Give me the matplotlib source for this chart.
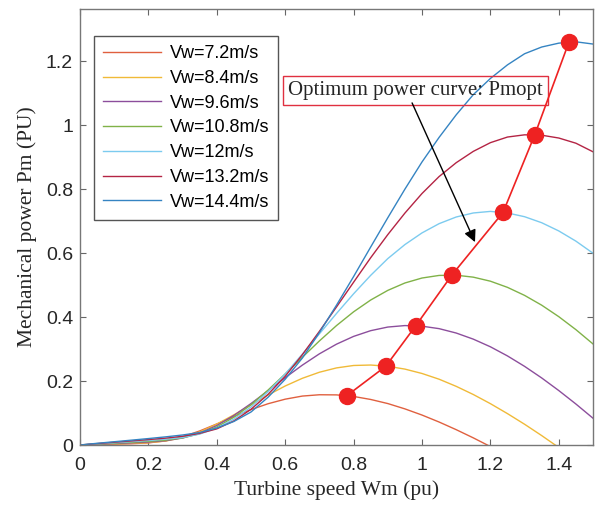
import matplotlib
matplotlib.use('Agg')
import matplotlib.pyplot as plt

# turbine speed grid (pu)
speed = [0.00, 0.05, 0.10, 0.15, 0.20, 0.25, 0.30, 0.35, 0.40, 0.45,
         0.50, 0.55, 0.60, 0.65, 0.70, 0.75, 0.80, 0.85, 0.90, 0.95,
         1.00, 1.05, 1.10, 1.15, 1.20, 1.25, 1.30, 1.35, 1.40, 1.45, 1.50]

# mechanical power (pu) for each wind speed
p72 = [0, 0.0013, 0.0025, 0.0039, 0.0066, 0.0129, 0.0257, 0.0439, 0.0658, 0.0888,
       0.1106, 0.1290, 0.1432, 0.1529, 0.1570, 0.1566, 0.1517, 0.1423, 0.1295, 0.1129,
       0.0936, 0.0718, 0.0479, 0.0223, -0.0049]
p84 = [0, 0.0018, 0.0034, 0.0052, 0.0075, 0.0123, 0.0229, 0.0408, 0.0652, 0.0943,
       0.1254, 0.1563, 0.1844, 0.2084, 0.2274, 0.2409, 0.2485, 0.2499, 0.2460, 0.2372,
       0.2235, 0.2056, 0.1833, 0.1578, 0.1292, 0.0980, 0.0648, 0.0294, -0.0078]
p96 = [0, 0.0023, 0.0045, 0.0067, 0.0093, 0.0134, 0.0218, 0.0372, 0.0609, 0.0923,
       0.1295, 0.1697, 0.2104, 0.2495, 0.2849, 0.3151, 0.3394, 0.3573, 0.3686, 0.3732,
       0.3713, 0.3636, 0.3499, 0.3308, 0.3069, 0.2783, 0.2457, 0.2095, 0.1701, 0.1281,
       0.0837]
p108 = [0, 0.0030, 0.0057, 0.0085, 0.0114, 0.0153, 0.0223, 0.0352, 0.0563, 0.0867,
        0.1258, 0.1718, 0.2221, 0.2740, 0.3252, 0.3732, 0.4162, 0.4531, 0.4832, 0.5063,
        0.5218, 0.5299, 0.5306, 0.5245, 0.5119, 0.4926, 0.4675, 0.4369, 0.4010, 0.3605,
        0.3158]
p120 = [0, 0.0037, 0.0071, 0.0105, 0.0140, 0.0181, 0.0234, 0.0342, 0.0528, 0.0809,
        0.1189, 0.1664, 0.2219, 0.2838, 0.3474, 0.4110, 0.4725, 0.5302, 0.5825, 0.6263,
        0.6628, 0.6917, 0.7125, 0.7251, 0.7300, 0.7251, 0.7134, 0.6946, 0.6689, 0.6371,
        0.5993]
p132 = [0, 0.0044, 0.0086, 0.0127, 0.0169, 0.0214, 0.0273, 0.0364, 0.0504, 0.0752,
        0.1116, 0.1583, 0.2147, 0.2819, 0.3552, 0.4314, 0.5087, 0.5853, 0.6575, 0.7247,
        0.7859, 0.8389, 0.8822, 0.9176, 0.9448, 0.9624, 0.9693, 0.9681, 0.9593, 0.9431,
        0.9163]
p144 = [0, 0.0053, 0.0102, 0.0151, 0.0201, 0.0254, 0.0313, 0.0390, 0.0529, 0.0735,
        0.1031, 0.1493, 0.2055, 0.2716, 0.3514, 0.4369, 0.5264, 0.6188, 0.7102, 0.7995,
        0.8845, 0.9613, 1.0318, 1.0949, 1.1454, 1.1880, 1.2227, 1.2437, 1.2558, 1.2600,
        1.2530]

labels = ['Vw=7.2m/s', 'Vw=8.4m/s', 'Vw=9.6m/s', 'Vw=10.8m/s',
          'Vw=12m/s', 'Vw=13.2m/s', 'Vw=14.4m/s']
colors = ['#e0603f', '#f0ba38', '#8c4e9c', '#80b248', '#7ccbef', '#b42444', '#3584c2']

# optimum power points
opt_speed = [0.78, 0.894, 0.982, 1.088, 1.237, 1.33, 1.43]
opt_power = [0.154, 0.246, 0.373, 0.532, 0.727, 0.970, 1.260]

xticks = [0, 0.2, 0.4, 0.6, 0.8, 1.0, 1.2, 1.4]
xticklabels = ['0', '0.2', '0.4', '0.6', '0.8', '1', '1.2', '1.4']
yticks = [0, 0.2, 0.4, 0.6, 0.8, 1.0, 1.2]
yticklabels = ['0', '0.2', '0.4', '0.6', '0.8', '1', '1.2']

fig = plt.figure(figsize=(5.98, 5.08), dpi=100)
ax = fig.add_axes([80/598, 63/508, 513/598, 436/508])

series = [p72, p84, p96, p108, p120, p132, p144]
for y, c, lab in zip(series, colors, labels):
    ax.plot(speed[:len(y)], y, color=c, lw=1.0, label=lab)

ax.plot(opt_speed, opt_power, color='#ee2222', lw=1.2, marker='o', ms=11.5,
        mfc='#ee2222', mec='#ee2222', zorder=5)

ax.set_xlim(0, 1.5)
ax.set_ylim(0, 1.3625)
ax.set_xticks(xticks)
ax.set_xticklabels(xticklabels)
ax.set_yticks(yticks)
ax.set_yticklabels(yticklabels)
ax.tick_params(direction='in', top=True, right=True, length=4, width=0.8,
               color='#666666', labelcolor='#262626', labelsize=14)
ax.tick_params(axis='x', pad=9)
ax.tick_params(axis='y', pad=5)
for lab in ax.get_xticklabels() + ax.get_yticklabels():
    lab.set_fontfamily('Liberation Sans')
for sp in ax.spines.values():
    sp.set_color('#777777')
    sp.set_linewidth(1.0)

ax.set_xlabel('Turbine speed Wm (pu)', fontfamily='Liberation Serif', fontsize=15.5,
              color='#262626', labelpad=4)
ax.set_ylabel('Mechanical power Pm (PU)', fontfamily='Liberation Serif', fontsize=15.5,
              color='#262626', labelpad=6)

leg = ax.legend(loc='upper left', bbox_to_anchor=(0.027, 0.938), borderaxespad=0,
                prop={'family': 'Liberation Sans', 'size': 13}, handlelength=3.2,
                handletextpad=0.5, labelspacing=0.43, fancybox=False, framealpha=1,
                edgecolor='#555555', borderpad=0.5)
leg.get_frame().set_linewidth(1.0)

ax.text(0.981, 1.108, 'Optimum power curve: Pmopt', ha='center', va='center',
        fontfamily='Liberation Serif', fontsize=15, color='#262626',
        bbox=dict(boxstyle='square,pad=0.25', fc='none', ec='#e03040', lw=1.0))
ax.annotate('', xy=(1.155, 0.634), xytext=(0.971, 1.069),
            arrowprops=dict(arrowstyle='-|>', color='black', lw=1.0, mutation_scale=18,
                            shrinkA=0, shrinkB=0))

fig.savefig('out.png', dpi=100)
